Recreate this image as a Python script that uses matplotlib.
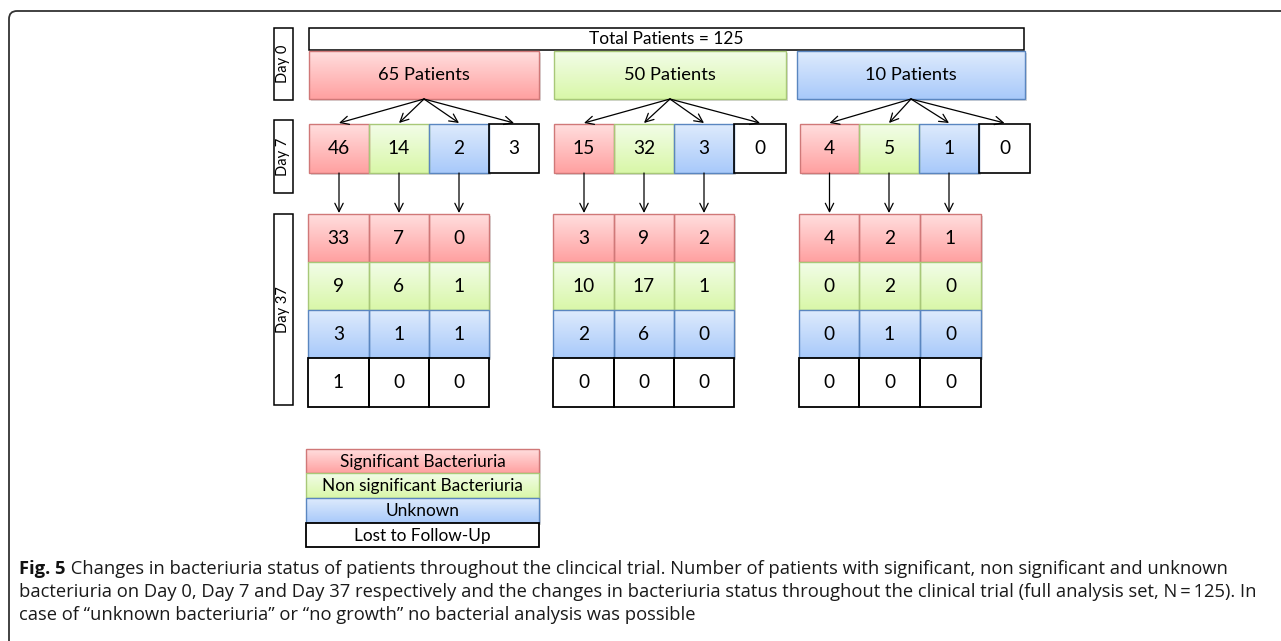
import numpy as np
import matplotlib
matplotlib.use("Agg")
import matplotlib.pyplot as plt
from matplotlib.patches import Rectangle, FancyArrowPatch
from matplotlib.path import Path
from matplotlib.patches import PathPatch

# ---------------- data ----------------
total_patients = 125
day0_counts = [65, 50, 10]
day7_counts = [[46, 14, 2, 3], [15, 32, 3, 0], [4, 5, 1, 0]]
# day37[group][row][col]; rows = Significant, Non significant, Unknown, Lost
day37_counts = [
    [[33, 7, 0], [9, 6, 1], [3, 1, 1], [1, 0, 0]],
    [[3, 9, 2], [10, 17, 1], [2, 6, 0], [0, 0, 0]],
    [[4, 2, 1], [0, 2, 0], [0, 1, 0], [0, 0, 0]],
]
categories = ["Significant Bacteriuria", "Non significant Bacteriuria", "Unknown", "Lost to Follow-Up"]
day_labels = ["Day 0", "Day 7", "Day 37"]
caption_bold = "Fig. 5"
caption_lines = [
    " Changes in bacteriuria status of patients throughout the clincical trial. Number of patients with significant, non significant and unknown",
    "bacteriuria on Day 0, Day 7 and Day 37 respectively and the changes in bacteriuria status throughout the clinical trial (full analysis set, N\u2009=\u2009125). In",
    "case of \u201cunknown bacteriuria\u201d or \u201cno growth\u201d no bacterial analysis was possible",
]

# ---------------- styles ----------------
STY = {
    0: dict(top=(1.0, 0.87, 0.87), bot=(1.0, 0.63, 0.63), edge="#D07878"),
    1: dict(top=(0.95, 0.99, 0.91), bot=(0.85, 0.97, 0.66), edge="#A8C878"),
    2: dict(top=(0.87, 0.92, 0.99), bot=(0.66, 0.79, 0.98), edge="#5A86C0"),
    3: dict(top=(1, 1, 1), bot=(1, 1, 1), edge="black"),
}
FONT = "Lato"
W, H = 1281, 641
fig = plt.figure(figsize=(W / 100, H / 100), dpi=100)
ax = fig.add_axes([0, 0, 1, 1])
ax.set_xlim(0, W)
ax.set_ylim(H, 0)
ax.axis("off")


def box(x0, y0, x1, y1, cat, text=None, fs=13, lw=1.0, z=2):
    s = STY[cat]
    if cat != 3:
        t = np.linspace(0, 1, 64)[:, None]
        top = np.array(s["top"])
        bot = np.array(s["bot"])
        img = (top[None, None, :] * (1 - t[..., None]) + bot[None, None, :] * t[..., None])
        ax.imshow(img, extent=(x0, x1, y1, y0), aspect="auto", zorder=z, interpolation="bilinear")
        ax.add_patch(Rectangle((x0 + 1.5, y0 + 2), x1 - x0, y1 - y0, facecolor="#d8d8d8",
                               edgecolor="none", zorder=z - 0.5))
    else:
        ax.add_patch(Rectangle((x0, y0), x1 - x0, y1 - y0, facecolor="white", edgecolor="none", zorder=z))
    ax.add_patch(Rectangle((x0, y0), x1 - x0, y1 - y0, facecolor="none",
                           edgecolor=s["edge"], lw=lw, zorder=z + 0.5))
    if text is not None:
        ax.text((x0 + x1) / 2, (y0 + y1) / 2, str(text), ha="center", va="center",
                fontsize=fs, family=FONT, color="black", zorder=z + 1)


def arrow(x0, y0, x1, y1):
    ax.add_patch(FancyArrowPatch((x0, y0), (x1, y1), arrowstyle="->,head_length=6,head_width=3",
                                 mutation_scale=1, lw=0.9, color="black", shrinkA=0, shrinkB=0, zorder=5))


def day_label(x0, y0, x1, y1, txt):
    ax.add_patch(Rectangle((x0, y0), x1 - x0, y1 - y0, facecolor="white", edgecolor="black", lw=1.1, zorder=2))
    ax.text((x0 + x1) / 2, (y0 + y1) / 2, txt, rotation=90, ha="center", va="center",
            fontsize=10.5, family=FONT, zorder=3)


# outer frame (open on right/bottom, rounded top-left corner)
r = 8
verts = [(9, H + 5), (9, 11 + r), (9, 11), (9 + r, 11), (W + 5, 11)]
codes = [Path.MOVETO, Path.LINETO, Path.CURVE3, Path.CURVE3, Path.LINETO]
ax.add_patch(PathPatch(Path(verts, codes), facecolor="none", edgecolor="#333333", lw=1.3, zorder=1))

# layout (pixel positions)
d0_x = [(309, 539), (554, 786), (797, 1025)]
d0_y = (51, 99)
tot_box = (309, 28, 1024, 50)
d7_x = [[309, 369, 429, 489, 539], [554, 614, 674, 734, 786], [800, 859, 919, 979, 1030]]
d7_y = (124, 173)
d37_x = [[308, 369, 429, 489], [553, 614, 674, 734], [799, 859, 920, 981]]
d37_y = [214, 262, 310, 358, 407]

# total box
ax.add_patch(Rectangle((tot_box[0], tot_box[1]), tot_box[2] - tot_box[0], tot_box[3] - tot_box[1],
                       facecolor="white", edgecolor="black", lw=1.1, zorder=2))
ax.text((tot_box[0] + tot_box[2]) / 2, (tot_box[1] + tot_box[3]) / 2 + 0.5,
        f"Total Patients = {total_patients}", ha="center", va="center", fontsize=12.5, family=FONT, zorder=3)

day_label(274, 28, 293, 100, day_labels[0])
day_label(274, 120, 293, 193, day_labels[1])
day_label(274, 214, 293, 405, day_labels[2])

NUM_FS = 13.8
for g in range(3):
    x0, x1 = d0_x[g]
    box(x0, d0_y[0], x1, d0_y[1], g, f"{day0_counts[g]} Patients", fs=13.2)
    cx = (x0 + x1) / 2
    xs = d7_x[g]
    for c in range(4):
        box(xs[c], d7_y[0], xs[c + 1], d7_y[1], c, day7_counts[g][c], fs=NUM_FS,
            lw=1.2 if c == 3 else 1.0)
        arrow(cx, d0_y[1], (xs[c] + xs[c + 1]) / 2, d7_y[0] - 1)
    gx = d37_x[g]
    for c in range(3):
        mx = (xs[c] + xs[c + 1]) / 2
        arrow(mx, d7_y[1], mx, d37_y[0] - 1)
        for rr in range(4):
            box(gx[c], d37_y[rr], gx[c + 1], d37_y[rr + 1], rr, day37_counts[g][rr][c], fs=NUM_FS,
                lw=1.3 if rr == 3 else 1.0, z=2 + rr)

# legend
leg_x = (306, 539)
leg_y = [449, 473, 498, 523, 547]
for i, name in enumerate(categories):
    box(leg_x[0], leg_y[i], leg_x[1], leg_y[i + 1], i, None, lw=1.3 if i == 3 else 1.0, z=2 + i)
    ax.text((leg_x[0] + leg_x[1]) / 2, (leg_y[i] + leg_y[i + 1]) / 2 + 0.5, name, ha="center", va="center",
            fontsize=12.4, family=FONT, zorder=10)

# caption
CAP_FONT = "Open Sans"
renderer = fig.canvas.get_renderer()
cap_fs = 11.5
target = 1260 - 19
probe = ax.text(0, 0, caption_lines[1], fontsize=cap_fs, family=CAP_FONT)
wpx = probe.get_window_extent(renderer).width
probe.remove()
cap_fs = cap_fs * target / wpx
ys = [569, 592, 615]
tb = ax.text(19, ys[0], caption_bold, fontsize=cap_fs, family=CAP_FONT, fontweight="bold",
             va="center", ha="left", color="#111111")
bw = tb.get_window_extent(renderer).width
ax.text(19 + bw, ys[0], caption_lines[0], fontsize=cap_fs, family=CAP_FONT, va="center", ha="left",
        color="#1a1a1a")
for i in (1, 2):
    ax.text(19, ys[i], caption_lines[i], fontsize=cap_fs, family=CAP_FONT, va="center", ha="left",
            color="#1a1a1a")

fig.savefig("out.png", dpi=100)
